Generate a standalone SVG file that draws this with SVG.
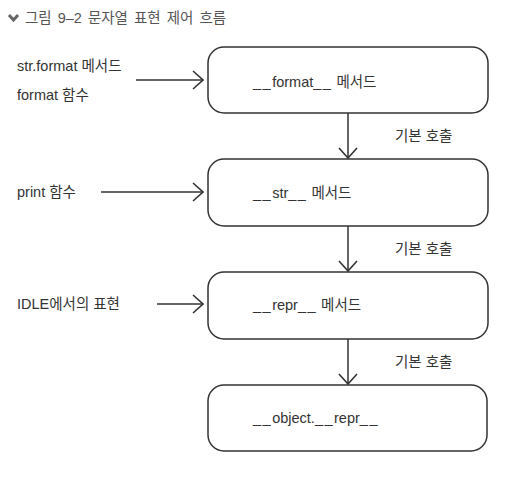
<svg xmlns="http://www.w3.org/2000/svg" width="505" height="477" viewBox="0 0 505 477">
<defs>
<style>
.t{font-family:"Liberation Sans","Noto Sans CJK KR",sans-serif;font-size:14.5px;fill:#333}
.u{letter-spacing:1.5px}
.title{font-family:"Liberation Sans","Noto Sans CJK KR",sans-serif;font-size:14.5px;fill:#555;word-spacing:2px}
.box{fill:#fff;stroke:#333;stroke-width:1.5}
.ln{fill:none;stroke:#333;stroke-width:1.5}
</style>
<marker id="ah" viewBox="0 0 12 20" refX="11" refY="10" markerWidth="12" markerHeight="20" markerUnits="userSpaceOnUse" orient="auto">
<path d="M1,1 L11,10 L1,19" fill="none" stroke="#333" stroke-width="1.6"/>
</marker>
</defs>
<rect width="505" height="477" fill="#fff"/>
<g id="title">
<path d="M9,15 L13.5,20 L18,15" fill="none" stroke="#666" stroke-width="3"/>
<text class="title" x="25" y="23">그림 9–2  문자열 표현 제어 흐름</text>
</g>
<g id="connectors">
<line class="ln" x1="136" y1="80" x2="203" y2="80" marker-end="url(#ah)"/>
<line class="ln" x1="101" y1="192" x2="203" y2="192" marker-end="url(#ah)"/>
<line class="ln" x1="157" y1="304" x2="203" y2="304" marker-end="url(#ah)"/>
<line class="ln" x1="348" y1="113" x2="348" y2="158" marker-end="url(#ah)"/>
<line class="ln" x1="348" y1="226" x2="348" y2="271" marker-end="url(#ah)"/>
<line class="ln" x1="348" y1="339" x2="348" y2="384" marker-end="url(#ah)"/>
<text class="t" x="395" y="141">기본 호출</text>
<text class="t" x="395" y="254">기본 호출</text>
<text class="t" x="395" y="367">기본 호출</text>
</g>
<g id="in-format">
<text class="t" x="17" y="71">str.format 메서드</text>
<text class="t" x="17" y="100">format 함수</text>
</g>
<g id="in-print"><text class="t" x="17" y="197">print 함수</text></g>
<g id="in-idle"><text class="t" x="17" y="309">IDLE에서의 표현</text></g>
<g id="n-format">
<rect class="box" x="208" y="47" width="280" height="66" rx="16"/>
<text class="t" x="253" y="87"><tspan class="u">__</tspan>format<tspan class="u">__</tspan> 메서드</text>
</g>
<g id="n-str">
<rect class="box" x="208" y="159" width="280" height="67" rx="16"/>
<text class="t" x="253" y="198"><tspan class="u">__</tspan>str<tspan class="u">__</tspan> 메서드</text>
</g>
<g id="n-repr">
<rect class="box" x="208" y="272" width="280" height="67" rx="16"/>
<text class="t" x="253" y="310"><tspan class="u">__</tspan>repr<tspan class="u">__</tspan> 메서드</text>
</g>
<g id="n-object">
<rect class="box" x="208" y="385" width="279" height="66" rx="16"/>
<text class="t" x="253" y="423"><tspan class="u">__</tspan>object.<tspan class="u">__</tspan>repr<tspan class="u">__</tspan></text>
</g>
</svg>
